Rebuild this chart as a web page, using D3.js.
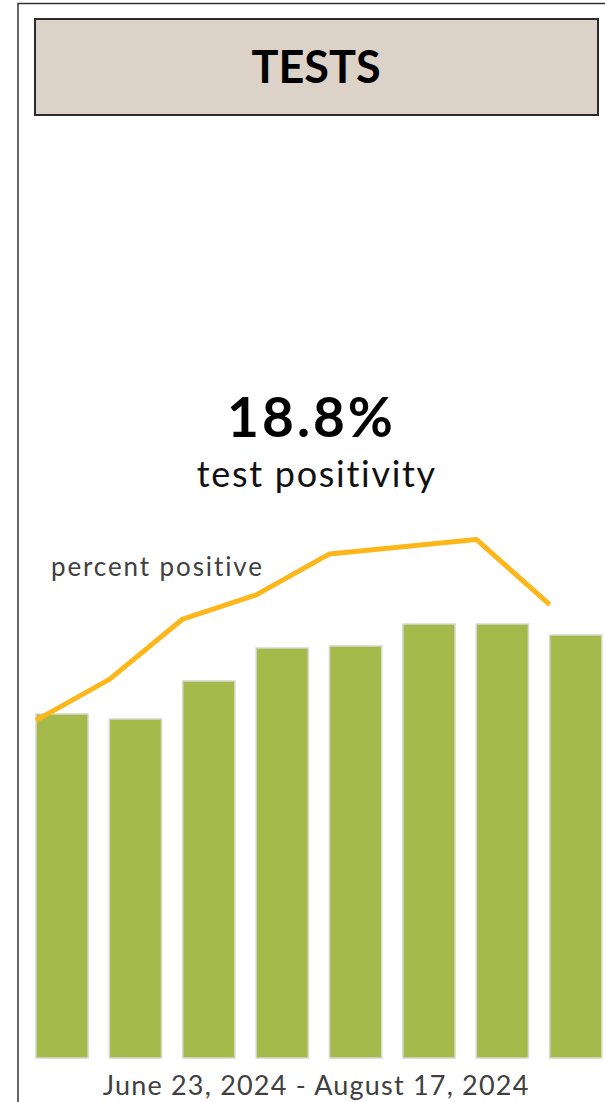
<!DOCTYPE html>
<html lang="en">
<head>
    <meta charset="utf-8">
    <title>Tests</title>
    <script src="https://d3js.org/d3.v7.min.js"></script>
    <style>
        body { margin: 0; background: #fff; }
        svg { display: block; font-family: Lato, "Open Sans", sans-serif; }
    </style>
</head>
<body>
    <div id="chart"></div>
    <script>
        // Weekly data, June 23 - August 17, 2024
        const weeks = ["Jun 23", "Jun 30", "Jul 7", "Jul 14", "Jul 21", "Jul 28", "Aug 4", "Aug 11"];
        const testCounts = [688, 678, 754, 820, 824, 868, 868, 846];
        const percentPositive = [14.0, 15.7, 18.2, 19.2, 20.9, 21.2, 21.5, 18.8];

        const headline = "18.8%";
        const dateRange = "June 23, 2024 - August 17, 2024";

        const width = 605, height = 1102;
        const svg = d3.select("#chart").append("svg")
            .attr("width", width)
            .attr("height", height);

        // outer frame
        svg.append("path")
            .attr("d", `M18,${height} V3.5 H${width}`)
            .attr("fill", "none")
            .attr("stroke", "#333")
            .attr("stroke-width", 1.5);

        // title box
        svg.append("rect")
            .attr("x", 35).attr("y", 19)
            .attr("width", 563).attr("height", 96)
            .attr("fill", "#dcd2c8")
            .attr("stroke", "#2b2b2b")
            .attr("stroke-width", 2);

        svg.append("text")
            .attr("x", 316).attr("y", 83)
            .attr("text-anchor", "middle")
            .attr("font-size", 45)
            .attr("font-weight", "bold")
            .attr("fill", "#000")
            .text("TESTS");

        // text with letter-spacing, centred (trailing space compensated)
        function label(txt, cx, y, size, spacing, opts = {}) {
            return svg.append("text")
                .attr("x", cx + spacing / 2).attr("y", y)
                .attr("text-anchor", opts.anchor || "middle")
                .attr("font-size", size)
                .attr("font-weight", opts.weight || "normal")
                .attr("letter-spacing", spacing)
                .attr("fill", opts.fill || "#111")
                .text(txt);
        }

        label(headline, 310, 437, 55, 3, { weight: "bold", fill: "#000" });
        label("test positivity", 316, 487, 36, 1.7);

        // scales
        const x = d3.scaleBand()
            .domain(weeks)
            .range([36, 601.8])
            .paddingInner(0.29)
            .paddingOuter(0);

        const yBar = d3.scaleLinear().domain([0, 1000]).range([1058, 558]);
        const yPct = d3.scaleLinear().domain([0, 25]).range([1058, 455]);

        const plot = svg.append("g");

        plot.selectAll("rect.bar")
            .data(weeks)
            .join("rect")
            .attr("class", "bar")
            .attr("x", d => x(d))
            .attr("y", (d, i) => yBar(testCounts[i]))
            .attr("width", x.bandwidth())
            .attr("height", (d, i) => yBar(0) - yBar(testCounts[i]))
            .attr("fill", "#a6b94b")
            .attr("stroke", "#d6d8cc")
            .attr("stroke-width", 1.5);

        const line = d3.line()
            .x((d, i) => x(weeks[i]))
            .y(d => yPct(d));

        plot.append("path")
            .datum(percentPositive)
            .attr("d", line)
            .attr("fill", "none")
            .attr("stroke", "#fdb71a")
            .attr("stroke-width", 5)
            .attr("stroke-linejoin", "round");

        label("percent positive", 50, 576, 26, 1.9, { anchor: "start", fill: "#404040" });

        label(dateRange, 315.5, 1095, 27, 1.2, { fill: "#404040" });
    </script>
</body>
</html>
